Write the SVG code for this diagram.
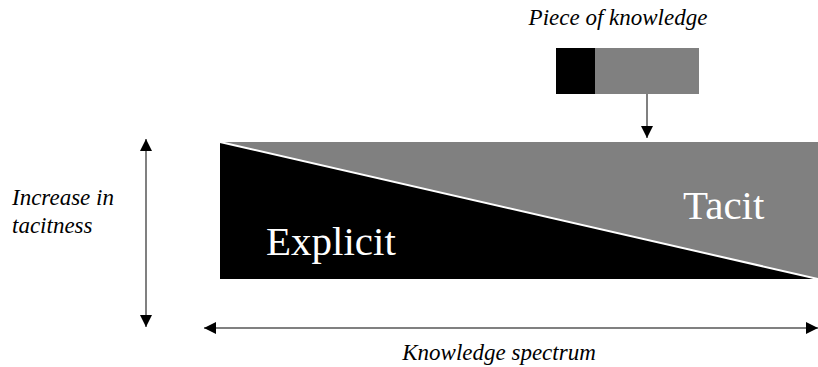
<svg xmlns="http://www.w3.org/2000/svg" width="818" height="367" viewBox="0 0 818 367">
<style>
.lbl{font-family:"Liberation Serif",serif;font-style:italic;font-size:23px;fill:#000}
.big{font-family:"Liberation Serif",serif;font-size:41px;fill:#fff}
.ln{stroke:#808080;stroke-width:2;fill:none}
</style>
<defs>
<marker id="ah" viewBox="0 0 10 10" refX="10" refY="5" markerWidth="12" markerHeight="12" markerUnits="userSpaceOnUse" orient="auto-start-reverse">
<path d="M0,0 L10,5 L0,10 z" fill="#000"/>
</marker>
</defs>
<rect width="818" height="367" fill="#fff"/>
<g id="spectrum">
<rect x="220" y="142" width="598" height="137" fill="#808080"/>
<polygon points="220,142 818,279 220,279" fill="#000"/>
<line x1="220" y1="142" x2="818" y2="279" stroke="#fff" stroke-width="2"/>
<text class="big" x="266" y="255">Explicit</text>
<text class="big" x="683" y="219">Tacit</text>
</g>
<g id="piece">
<rect x="556" y="48" width="143" height="46" fill="#808080"/>
<rect x="556" y="48" width="39" height="46" fill="#000"/>
<text class="lbl" x="618" y="25" text-anchor="middle">Piece of knowledge</text>
</g>
<g id="labels">
<text class="lbl" x="12" y="205">Increase in</text>
<text class="lbl" x="12" y="233">tacitness</text>
<text class="lbl" x="499" y="360" text-anchor="middle">Knowledge spectrum</text>
</g>
<g id="connectors">
<line class="ln" x1="647" y1="94" x2="647" y2="138" marker-end="url(#ah)"/>
<line class="ln" x1="146" y1="139" x2="146" y2="327" marker-start="url(#ah)" marker-end="url(#ah)"/>
<line class="ln" x1="204" y1="328" x2="818" y2="328" marker-start="url(#ah)" marker-end="url(#ah)"/>
</g>
</svg>
